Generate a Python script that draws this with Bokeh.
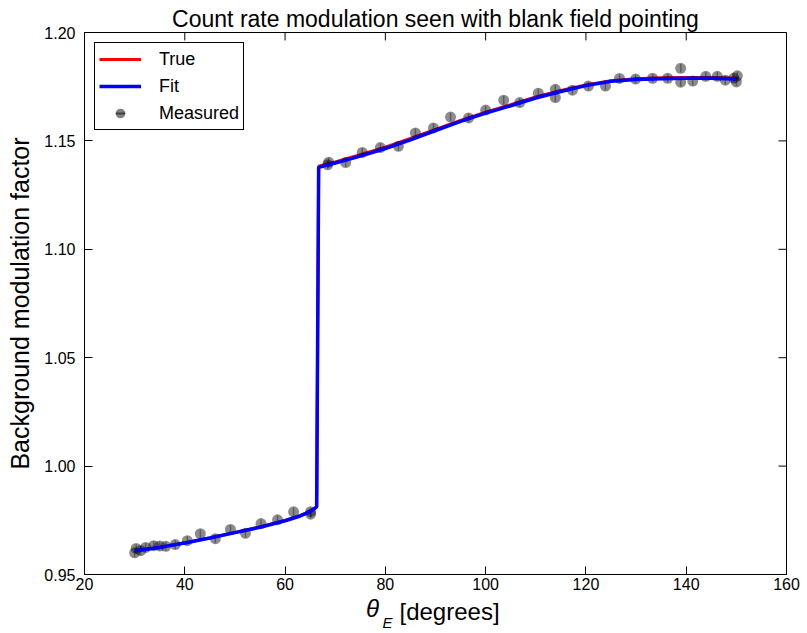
import numpy as np
from bokeh.plotting import figure
from bokeh.models import (Range1d, FixedTicker, Legend, LegendItem, LinearAxis,
                          ColumnDataSource, NumeralTickFormatter)
from bokeh.embed import file_html
from bokeh.resources import INLINE

# ---- data ----
meas_x = [30.0, 30.3, 31.2, 32.2, 33.8, 35.0, 36.2, 38.1, 40.5, 43.1, 46.1, 49.1,
          52.1, 55.2, 58.5, 61.7, 65.1, 65.1,
          68.5, 68.7, 72.1, 75.4, 79.0, 82.6, 86.0, 89.6, 93.0, 96.6, 100.0, 103.6,
          106.8, 110.5, 113.9, 113.9, 117.3, 120.5, 123.9, 126.7, 129.9, 133.3,
          136.3, 138.9, 138.9, 141.3, 143.9, 146.2, 147.8, 149.5, 150.0, 150.2]
meas_y = [0.9600, 0.9620, 0.9610, 0.9625, 0.9633, 0.9632, 0.9630, 0.9638, 0.9656,
          0.9688, 0.9665, 0.9708, 0.9690, 0.9735, 0.9752, 0.9789, 0.9778, 0.9790,
          1.1390, 1.1402, 1.1400, 1.1447, 1.1469, 1.1475, 1.1537, 1.1560, 1.1610,
          1.1606, 1.1642, 1.1688, 1.1677, 1.1720, 1.1700, 1.1738, 1.1734, 1.1753,
          1.1753, 1.1788, 1.1785, 1.1789, 1.1789, 1.1835, 1.1771, 1.1776, 1.1798,
          1.1798, 1.1780, 1.1790, 1.1772, 1.1800]
meas_err = [0.002] * len(meas_x)

curve_x = [30, 35, 40, 45, 50, 55, 60, 63, 65, 66.3, 66.7, 70, 75, 80, 85, 90,
           95, 100, 105, 110, 115, 120, 125, 130, 135, 140, 145, 150]
true_y = [0.9610, 0.9626, 0.9646, 0.9669, 0.9694, 0.9719, 0.9749, 0.9771, 0.9791,
          0.9812, 1.1383, 1.1403, 1.1436, 1.1471, 1.1511, 1.1553, 1.1595, 1.1633,
          1.1667, 1.1703, 1.1733, 1.1758, 1.1778, 1.1787, 1.1791, 1.1792, 1.1792,
          1.1789]
fit_y = [0.9610, 0.9625, 0.9645, 0.9668, 0.9693, 0.9718, 0.9748, 0.9770, 0.9790,
         0.9812, 1.1378, 1.1398, 1.1430, 1.1465, 1.1505, 1.1548, 1.1590, 1.1628,
         1.1662, 1.1698, 1.1728, 1.1755, 1.1775, 1.1783, 1.1787, 1.1789, 1.1789,
         1.1786]

x_ticks = [20, 40, 60, 80, 100, 120, 140, 160]
y_ticks = [0.95, 1.00, 1.05, 1.10, 1.15, 1.20]

FONT = "Liberation Sans"
XMIN, XMAX, YMIN, YMAX = 20, 160, 0.95, 1.20
W, BL, BR = 800, 84, 14
H, BT, BB = 633, 32, 55
TICK = 8  # px, inward ticks

p = figure(width=W, height=H, output_backend="svg", toolbar_location=None,
           x_range=Range1d(XMIN, XMAX), y_range=Range1d(YMIN, YMAX),
           title="Count rate modulation seen with blank field pointing",
           min_border_left=BL, min_border_right=BR, min_border_top=BT,
           min_border_bottom=BB)
p.title.align = "center"
p.title.text_font = FONT
p.title.text_font_size = "23px"
p.title.text_font_style = "normal"
p.title.text_color = "black"
p.title.standoff = 2
p.grid.visible = False
p.outline_line_color = "black"
p.outline_line_width = 1
p.background_fill_color = "white"
p.border_fill_color = "white"

for ax in (p.xaxis[0], p.yaxis[0]):
    ax.major_tick_in = TICK
    ax.major_tick_out = 0
    ax.minor_tick_in = 0
    ax.minor_tick_out = 0
    ax.major_label_text_font = FONT
    ax.major_label_text_font_size = "16px"
    ax.major_label_text_color = "black"
    ax.axis_line_color = "black"
    ax.major_tick_line_color = "black"
    ax.axis_label_text_font = FONT
    ax.axis_label_text_font_style = "normal"
    ax.axis_label_text_color = "black"
p.xaxis[0].major_label_standoff = 3
p.yaxis[0].major_label_standoff = 9

p.xaxis[0].ticker = FixedTicker(ticks=x_ticks)
p.yaxis[0].ticker = FixedTicker(ticks=y_ticks)
p.yaxis[0].formatter = NumeralTickFormatter(format="0.00")
p.yaxis[0].axis_label = "Background modulation factor"
p.yaxis[0].axis_label_text_font_size = "25px"
p.yaxis[0].axis_label_standoff = 7


# x-axis title "θ_E [degrees]" built from three label-only axes stacked below
def label_axis(pos, text, size, style, standoff):
    return LinearAxis(ticker=FixedTicker(ticks=[pos]),
                      major_label_overrides={pos: text},
                      major_label_text_font=FONT, major_label_text_font_size=size,
                      major_label_text_font_style=style,
                      major_label_text_color="black", major_label_standoff=standoff,
                      axis_line_color=None, major_tick_line_color=None,
                      minor_tick_line_color=None, major_tick_in=0, major_tick_out=0,
                      minor_tick_in=0, minor_tick_out=0)


p.add_layout(label_axis(77.45, "θ", "24px", "italic", 2), "below")
p.add_layout(label_axis(92.80, "[degrees]", "24px", "normal", -27), "below")
p.add_layout(label_axis(80.45, "E", "15px", "italic", -14), "below")

# mirrored inward ticks on top and right edges (from the tick lists)
fw = W - BL - BR
fh = H - BT - BB
dy = TICK * (YMAX - YMIN) / fh
dx = TICK * (XMAX - XMIN) / fw
p.segment(x0=x_ticks, y0=[YMAX] * len(x_ticks), x1=x_ticks,
          y1=[YMAX - dy] * len(x_ticks), line_color="black", line_width=1)
p.segment(x0=[XMAX] * len(y_ticks), y0=y_ticks, x1=[XMAX - dx] * len(y_ticks),
          y1=y_ticks, line_color="black", line_width=1)

# curves
r_true = p.line(curve_x, true_y, line_color="red", line_width=3)

# measured points
src = ColumnDataSource(dict(x=meas_x, y=meas_y,
                            lo=[a - b for a, b in zip(meas_y, meas_err)],
                            hi=[a + b for a, b in zip(meas_y, meas_err)]))
r_err = p.segment(x0="x", y0="lo", x1="x", y1="hi", source=src,
                  line_color="black", line_alpha=0.35, line_width=1.5)
r_pts = p.scatter(x="x", y="y", source=src, size=11, fill_color="black",
                  fill_alpha=0.45, line_alpha=0)

r_fit = p.line(curve_x, fit_y, line_color="blue", line_width=3.5)

# legend-only glyphs (NaN -> not drawn in plot)
r_leg_bar = p.scatter(x=np.array([np.nan]), y=np.array([np.nan]), marker="dash",
                      angle=np.pi / 2, size=18, line_color="black", line_alpha=0.5,
                      line_width=2)
r_leg_pt = p.scatter(x=np.array([np.nan]), y=np.array([np.nan]), size=11,
                     fill_color="black", fill_alpha=0.5, line_alpha=0)

legend = Legend(items=[LegendItem(label="True", renderers=[r_true]),
                       LegendItem(label="Fit", renderers=[r_fit]),
                       LegendItem(label="Measured", renderers=[r_leg_bar, r_leg_pt])],
                location="top_left", margin=10, padding=4, spacing=3,
                glyph_width=42, glyph_height=24, label_height=20,
                label_standoff=18, label_text_font=FONT, label_text_color="black",
                label_text_font_size="18px", border_line_color="black",
                border_line_width=1, border_line_alpha=1)
p.add_layout(legend, "center")

open("out.html", "w").write(file_html(p, INLINE))
